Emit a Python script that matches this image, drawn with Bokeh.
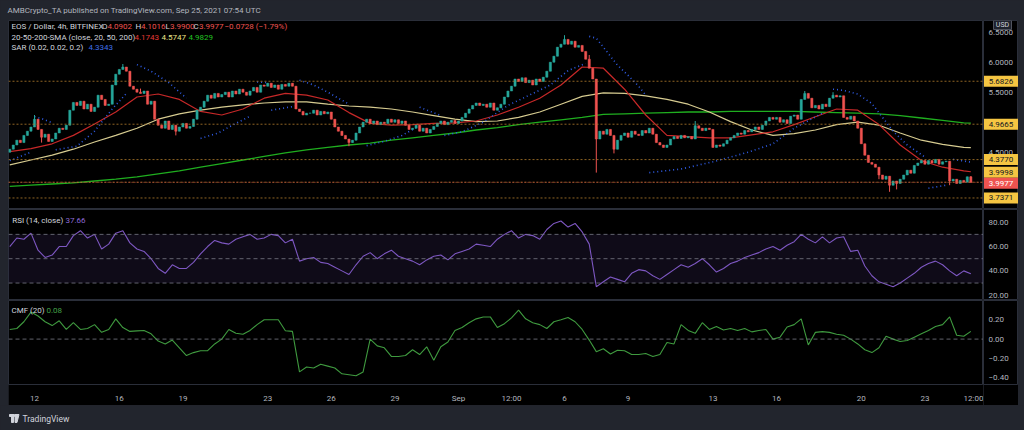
import pandas as pd
from bokeh.plotting import figure
from bokeh.layouts import column, row
from bokeh.models import (Range1d, FixedTicker, Span, Label, BoxAnnotation, ColumnDataSource)
from bokeh.core.properties import value
from bokeh.embed import file_html
from bokeh.resources import INLINE

# ---------------- data ----------------
FIRST_CANDLE = "2021-08-10 20:00"
FIRST_OPEN = 4.50
closes = [
    4.55,                                   # Aug 10 20:00
    4.62, 4.70, 4.66, 4.78, 4.85, 4.92,     # Aug 11
    5.05, 4.88, 4.75, 4.80, 4.68, 4.72,     # Aug 12
    4.82, 4.90, 4.88, 4.95, 5.20, 5.33,     # Aug 13
    5.28, 5.35, 5.22, 5.30, 5.18, 5.25,     # Aug 14
    5.45, 5.38, 5.28, 5.30, 5.62, 5.80,     # Aug 15
    5.88, 5.92, 5.85, 5.60, 5.55, 5.50,     # Aug 16
    5.48, 5.52, 5.30, 5.35, 5.05, 4.95,     # Aug 17
    4.90, 5.02, 4.88, 4.95, 4.85, 4.92,     # Aug 18
    4.98, 4.90, 4.93, 5.05, 5.20, 5.25,     # Aug 19
    5.35, 5.45, 5.40, 5.48, 5.42, 5.46,     # Aug 20
    5.50, 5.42, 5.52, 5.47, 5.55, 5.50,     # Aug 21
    5.45, 5.52, 5.58, 5.50, 5.62, 5.60,     # Aug 22
    5.65, 5.58, 5.62, 5.55, 5.63, 5.60,     # Aug 23
    5.65, 5.60, 5.22, 5.18, 5.12, 5.15,     # Aug 24
    5.15, 5.20, 5.12, 5.18, 5.14, 5.17,     # Aug 25
    5.05, 4.92, 4.85, 4.78, 4.72, 4.66,     # Aug 26
    4.70, 4.82, 4.92, 5.00, 5.05, 4.98,     # Aug 27
    5.02, 4.96, 5.00, 4.98, 5.05, 5.00,     # Aug 28
    5.04, 4.98, 5.02, 4.95, 4.88, 4.90,     # Aug 29
    4.95, 4.85, 4.90, 4.82, 4.88, 4.93,     # Aug 30
    4.98, 5.02, 4.96, 5.00, 5.03, 4.98,     # Aug 31
    5.02, 5.08, 5.15, 5.22, 5.28, 5.32,     # Sep 1
    5.28, 5.30, 5.25, 5.32, 5.20, 5.24,     # Sep 2
    5.30, 5.42, 5.52, 5.60, 5.72, 5.68,     # Sep 3
    5.74, 5.66, 5.70, 5.62, 5.72, 5.68,     # Sep 4
    5.75, 5.85, 6.00, 6.10, 6.25, 6.30,     # Sep 5
    6.38, 6.30, 6.35, 6.25, 6.28, 6.18,     # Sep 6
    6.05, 5.90, 5.72, 4.72, 4.85, 4.80,     # Sep 7
    4.88, 4.78, 4.55, 4.70, 4.78, 4.82,     # Sep 8
    4.75, 4.85, 4.80, 4.78, 4.86, 4.82,     # Sep 9
    4.90, 4.80, 4.66, 4.62, 4.58, 4.62,     # Sep 10
    4.72, 4.76, 4.73, 4.78, 4.74, 4.76,     # Sep 11
    4.72, 4.94, 4.90, 4.86, 4.90, 4.88,     # Sep 12
    4.58, 4.62, 4.60, 4.64, 4.70, 4.74,     # Sep 13
    4.78, 4.82, 4.80, 4.86, 4.84, 4.88,     # Sep 14
    4.92, 4.88, 4.95, 5.02, 5.08, 5.05,     # Sep 15
    5.08, 5.00, 5.04, 4.98, 5.10, 5.12,     # Sep 16
    5.05, 5.38, 5.48, 5.40, 5.24, 5.28,     # Sep 17
    5.22, 5.30, 5.26, 5.40, 5.45, 5.42,     # Sep 18
    5.44, 5.08, 5.05, 5.10, 5.02, 4.90,     # Sep 19
    4.64, 4.45, 4.33, 4.30, 4.25, 4.12,     # Sep 20
    4.05, 4.10, 3.95, 4.02, 3.98, 4.05,     # Sep 21
    4.12, 4.20, 4.15, 4.28, 4.32, 4.36,     # Sep 22
    4.30, 4.36, 4.32, 4.38, 4.30, 4.34,     # Sep 23
    4.35, 4.02, 4.05, 3.98, 4.03, 4.00,     # Sep 24
    4.0902, 3.9977,                         # Sep 25
]
# notable wicks (candle index -> price)
wick_high = {7: 5.12, 32: 5.97, 37: 5.56, 157: 6.45, 164: 6.12, 194: 5.02,
             225: 5.52, 233: 5.50, 272: 4.1016}
wick_low = {9: 4.66, 47: 4.78, 96: 4.60, 166: 4.16, 171: 4.48, 246: 4.05,
            249: 3.84, 251: 3.88, 266: 3.95, 272: 3.99}

# moving averages, one reading per day from the first candle, plus the last candle
sma20 = [4.51, 4.56, 4.64, 4.78, 4.97, 5.17, 5.42, 5.47, 5.38, 5.18,
         5.12, 5.22, 5.40, 5.48, 5.45, 5.37, 5.16, 4.98, 4.95, 4.96,
         4.98, 4.99, 5.02, 5.12, 5.25, 5.40, 5.62, 5.92, 5.90, 5.55,
         5.12, 4.78, 4.76, 4.74, 4.74, 4.79, 4.84, 4.96, 5.09, 5.22,
         5.20, 4.96, 4.62, 4.36, 4.25, 4.19, 4.1743]
sma50 = [4.29, 4.37, 4.45, 4.55, 4.67, 4.78, 4.90, 5.05, 5.14, 5.20,
         5.25, 5.29, 5.32, 5.34, 5.34, 5.30, 5.27, 5.25, 5.22, 5.17,
         5.11, 5.05, 5.01, 5.02, 5.08, 5.17, 5.30, 5.43, 5.49, 5.48,
         5.44, 5.38, 5.30, 5.17, 5.01, 4.87, 4.78, 4.81, 4.87, 4.96,
         5.00, 4.95, 4.82, 4.70, 4.63, 4.58, 4.5747]
sma200 = [3.93, 3.95, 3.97, 3.99, 4.02, 4.05, 4.09, 4.14, 4.19, 4.25,
          4.31, 4.37, 4.43, 4.49, 4.54, 4.58, 4.62, 4.65, 4.70, 4.74,
          4.78, 4.82, 4.87, 4.91, 4.96, 5.00, 5.04, 5.08, 5.13, 5.14,
          5.15, 5.16, 5.17, 5.17, 5.18, 5.18, 5.18, 5.18, 5.17, 5.16,
          5.15, 5.14, 5.11, 5.07, 5.03, 4.99, 4.9829]

# parabolic SAR runs: (candle indices, values)
sar_runs = [
    ([0, 6], [4.36, 4.50]),
    ([7, 9, 12], [5.09, 5.06, 4.99]),
    ([13, 19, 24, 29, 33], [4.54, 4.60, 4.85, 5.22, 5.48]),
    ([36, 40, 45, 50], [5.96, 5.85, 5.66, 5.40]),
    ([54, 59, 63, 68], [4.73, 4.82, 4.95, 5.10]),
    ([70, 73], [5.67, 5.66]),
    ([74, 81], [5.20, 5.27]),
    ([82, 86, 90, 96], [5.70, 5.62, 5.50, 5.30]),
    ([101, 106, 111, 115], [4.61, 4.68, 4.78, 4.91]),
    ([116, 122], [5.25, 5.11]),
    ([123, 128, 134, 141, 147, 153, 158, 163], [4.78, 4.84, 5.00, 5.28, 5.45, 5.62, 5.86, 5.98]),
    ([164, 166, 168, 170, 172, 175, 178, 180], [6.43, 6.40, 6.25, 6.10, 5.95, 5.78, 5.60, 5.45]),
    ([181, 190, 199, 209, 216, 222, 230], [4.16, 4.22, 4.34, 4.50, 4.64, 4.90, 5.15]),
    ([233, 236, 240, 244, 247, 250, 254, 259], [5.55, 5.53, 5.47, 5.31, 5.08, 4.85, 4.62, 4.42]),
    ([260, 265], [3.90, 3.95]),
    ([267, 272], [4.38, 4.3343]),
]

# RSI(14) and CMF(20), one reading every second candle
rsi = [60, 67, 66, 71, 57, 51, 53, 60, 60, 69,
       73, 67, 70, 58, 62, 71, 73, 63, 58, 56,
       50, 42, 38, 45, 42, 42, 47, 54,
       60, 65, 63, 62, 66, 68, 70, 66, 67, 70,
       69, 63, 66, 48, 50, 51, 47, 46, 43, 40,
       37, 45, 52, 55, 50, 54, 57, 52, 50, 48,
       45, 49, 52, 53, 49, 54, 56, 58, 62, 61,
       60, 66, 70, 73, 67, 70, 69, 66, 74, 79,
       81, 76, 79, 72, 62, 27, 31, 35, 33, 31,
       38, 41, 40, 36, 33, 37, 41, 45, 43, 46,
       50, 45, 39, 42, 46, 48, 51, 53, 55, 58,
       60, 57, 61, 64, 70, 66, 63, 68, 63, 67,
       68, 56, 57, 44, 36, 31, 29, 27, 30, 34,
       38, 43, 46, 48, 45, 40, 36, 40, 37.66]
cmf = [0.10, 0.11, 0.18, 0.28, 0.24, 0.18, 0.14, 0.19, 0.10, 0.17,
       0.10, 0.11, 0.15, 0.07, 0.10, 0.21, 0.12, 0.08, 0.085, 0.09,
       0.055, -0.02, -0.05, -0.01, -0.09, -0.17, -0.14, -0.12, -0.12, -0.05,
       0.0, 0.10, 0.06, 0.05, 0.09, 0.15, 0.20, 0.20, 0.20, 0.087,
       0.08, -0.34, -0.29, -0.30, -0.26, -0.28, -0.30, -0.36, -0.37, -0.38,
       -0.34, 0.0, -0.07, -0.09, -0.18, -0.18, -0.17, -0.11, -0.16, -0.08,
       -0.22, -0.08, -0.03, 0.09, 0.12, 0.17, 0.21, 0.23, 0.23, 0.12,
       0.16, 0.22, 0.30, 0.21, 0.17, 0.15, 0.11, 0.18, 0.20, 0.225,
       0.18, 0.10, -0.01, -0.13, -0.10, -0.155, -0.115, -0.12, -0.16, -0.16,
       -0.15, -0.18, -0.16, -0.035, -0.05, 0.15, 0.09, 0.06, 0.17, 0.10,
       0.13, 0.095, 0.11, 0.09, 0.11, 0.075, 0.09, 0.10, 0.0, 0.02,
       0.126, 0.15, 0.21, -0.06, 0.07, 0.078, 0.07, 0.05, 0.04, 0.0,
       -0.05, -0.11, -0.14, -0.09, 0.03, 0.0, -0.025, -0.015, 0.02, 0.055,
       0.09, 0.13, 0.15, 0.23, 0.04, 0.03, 0.08]

levels = [5.6826, 4.9665, 4.3770, 3.9998, 3.7371]
last_price = 3.9977
price_ticks = [4.0, 4.5, 5.0, 5.5, 6.0, 6.5]
rsi_ticks = [20, 40, 60, 80]
cmf_ticks = [-0.4, -0.2, 0.0, 0.2]
time_ticks = ["2021-08-12", "2021-08-16", "2021-08-19", "2021-08-23", "2021-08-26",
              "2021-08-29", "2021-09-01", "2021-09-03 12:00", "2021-09-06", "2021-09-09",
              "2021-09-13", "2021-09-16", "2021-09-20", "2021-09-23", "2021-09-25 12:00"]
time_labels = ["12", "16", "19", "23", "26", "29", "Sep", "12:00", "6", "9",
               "13", "16", "20", "23", "12:00"]

# ---------------- derived ----------------
times = pd.date_range(FIRST_CANDLE, periods=len(closes), freq="4h")
tx = [t.value / 1e6 for t in times]
opens = [FIRST_OPEN] + closes[:-1]
opens[-1] = 4.0902
highs = [max(o, c, wick_high.get(i, 0)) for i, (o, c) in enumerate(zip(opens, closes))]
lows = [min(o, c, wick_low.get(i, 99)) for i, (o, c) in enumerate(zip(opens, closes))]
UP, DOWN = "#26a69a", "#ef5350"
colors = [UP if c >= o else DOWN for o, c in zip(opens, closes)]

# ---------------- layout geometry (page pixels) ----------------
PAGE_W = 1024
LEFT = 8
FRAME_L, FRAME_R = 8, 983
SCALE_W = 1018 - FRAME_R
T_REF = pd.Timestamp("2021-08-12")
PX_REF, PX_PER_DAY = 34.0, 21.2
FONT = "Roboto"
TXT = "#b2b5be"
LEG = "#d1d4dc"
BG = "#22252d"
GRID = "#2a2e39"


def x_at(px):
    return (T_REF + pd.Timedelta(days=(px - PX_REF) / PX_PER_DAY)).value / 1e6


def price_at(py):
    return 6.0 - (py - 61.7) / 60.0


def rsi_at(py):
    return 80 - (py - 221.7) / (73 / 60)


def cmf_at(py):
    return 0.2 - (py - 320.7) / (62 / 0.6)


x_range = Range1d(x_at(FRAME_L), x_at(FRAME_R))


def pane(height, y_range, bottom=0):
    p = figure(width=FRAME_R - FRAME_L, height=height, x_range=x_range, y_range=y_range,
               x_axis_location="below" if bottom else None, y_axis_location=None,
               toolbar_location=None, output_backend="svg",
               background_fill_color="#000000", border_fill_color="#000000",
               min_border=0, min_border_bottom=bottom, margin=(0, 0, 0, LEFT))
    p.outline_line_color = GRID
    p.grid.visible = False
    s = figure(width=SCALE_W, height=height, x_range=Range1d(0, SCALE_W), y_range=y_range,
               x_axis_location=None, y_axis_location=None, toolbar_location=None,
               output_backend="svg", background_fill_color="#000000",
               border_fill_color="#000000", min_border=0, min_border_bottom=bottom)
    s.outline_line_color = GRID
    s.grid.visible = False
    return p, s


def scale_labels(s, ticks, texts):
    s.text(x=[5] * len(ticks), y=ticks, text=texts, text_color=TXT,
           text_font=value(FONT), text_font_size="8px", text_baseline="middle",
           text_align="left")


def scale_boxes(s, ys, texts, fill, txt_color):
    s.rect(x=[SCALE_W / 2] * len(ys), y=ys, width=SCALE_W - 1, height=11,
           height_units="screen", fill_color=fill, line_color=None)
    s.text(x=[SCALE_W / 2] * len(ys), y=ys, text=texts, text_color=txt_color,
           text_font=value(FONT), text_font_size="8px", text_baseline="middle",
           text_align="center")


def label(p, x, y, text, color, size="8px"):
    p.add_layout(Label(x=x, y=y, text=text, text_color=color, text_font_size=size,
                       text_font=FONT, text_baseline="middle", text_align="left"))


def band(height):
    p = figure(width=PAGE_W, height=height, x_range=Range1d(0, PAGE_W),
               y_range=Range1d(0, height), x_axis_location=None, y_axis_location=None,
               toolbar_location=None, output_backend="svg", background_fill_color=BG,
               border_fill_color=BG, min_border=0)
    p.outline_line_color = None
    p.grid.visible = False
    return p


# ---------------- header ----------------
head = band(20)
label(head, 7, 10, "AMBCrypto_TA published on TradingView.com, Sep 25, 2021 07:54 UTC", TXT)

# ---------------- main price pane ----------------
main, mscale = pane(189, Range1d(price_at(209), price_at(20)))

for lv in levels:
    main.add_layout(Span(location=lv, dimension="width", line_color="#a8752a",
                         line_dash="2 2", line_width=1, line_alpha=0.85))
main.add_layout(Span(location=last_price, dimension="width", line_color="#ef5350",
                     line_dash="1 2", line_width=1, line_alpha=0.7))

sma_x = tx[::6] + [tx[-1]]
main.line(sma_x, sma200, line_color="#1fae1f", line_width=1.3)
main.line(sma_x, sma50, line_color="#d6cb90", line_width=1.2)
main.line(sma_x, sma20, line_color="#c62828", line_width=1.2)

main.multi_line([[tx[i] for i in idx] for idx, _ in sar_runs], [v for _, v in sar_runs],
                line_color="#2f5ce6", line_width=1.6, line_dash="1 3")

src = ColumnDataSource(dict(x=tx, o=opens, c=closes, h=highs, l=lows, color=colors,
                            top=[max(o, c) for o, c in zip(opens, closes)],
                            bottom=[min(o, c) for o, c in zip(opens, closes)]))
main.segment(x0="x", y0="h", x1="x", y1="l", source=src, line_color="color", line_width=1)
main.vbar(x="x", width=4 * 3600 * 1000 * 0.62, top="top", bottom="bottom", source=src,
          fill_color="color", line_color="color", line_width=0.5)

y1, y2, y3 = price_at(26), price_at(36.5), price_at(47)
label(main, x_at(11), y1, "EOS / Dollar, 4h, BITFINEX", LEG)
for px, t, col in [(101.5, "O", LEG), (107, "4.0902", DOWN), (135, "H", LEG),
                   (140.5, "4.1016", DOWN), (165, "L", LEG), (169.5, "3.9900", DOWN),
                   (193, "C", LEG), (198.5, "3.9977", DOWN),
                   (224, "\u22120.0728 (\u22121.79%)", DOWN)]:
    label(main, x_at(px), y1, t, col)
label(main, x_at(11), y2, "20-50-200-SMA (close, 20, 50, 200)", LEG)
label(main, x_at(134), y2, "4.1743", "#e53935")
label(main, x_at(161), y2, "4.5747", "#eee58a")
label(main, x_at(188), y2, "4.9829", "#22c222")
label(main, x_at(11), y3, "SAR (0.02, 0.02, 0.2)", LEG)
label(main, x_at(88), y3, "4.3343", "#3f6fe8")

scale_labels(mscale, price_ticks, [f"{v:.4f}" for v in price_ticks])
shift_px = {3.9998: -10}
scale_boxes(mscale, [lv - shift_px.get(lv, 0) / 60.0 for lv in levels],
            [f"{lv:.4f}" for lv in levels], "#f5c542", "#131722")
scale_boxes(mscale, [last_price - 1 / 60.0], [f"{last_price:.4f}"], "#ef5350", "#ffffff")
mscale.rect(x=[19], y=[price_at(24.5)], width=18, height=9, height_units="screen",
            fill_color="#1e222d", line_color="#50535e")
mscale.text(x=[19], y=[price_at(24.5)], text=["USD"], text_color=LEG,
            text_font=value(FONT), text_font_size="7px", text_baseline="middle",
            text_align="center")

# ---------------- RSI pane ----------------
rp, rscale = pane(91, Range1d(rsi_at(300), rsi_at(209)))
rp.add_layout(BoxAnnotation(bottom=30, top=70, fill_color="#7e57c2", fill_alpha=0.12,
                            line_color=None))
for lv in (70, 50, 30):
    rp.add_layout(Span(location=lv, dimension="width", line_color="#787b86",
                       line_dash="4 3", line_width=1, line_alpha=0.8))
rp.line(tx[::2], rsi, line_color="#7e57c2", line_width=1.1)
label(rp, x_at(11.7), rsi_at(220), "RSI (14, close)", LEG)
label(rp, x_at(65), rsi_at(220), "37.66", "#8e6ad6")
scale_labels(rscale, rsi_ticks, [f"{v:.2f}" for v in rsi_ticks])

# ---------------- CMF pane + time scale ----------------
cp, cscale = pane(105, Range1d(cmf_at(390), cmf_at(300)), bottom=15)
cp.add_layout(Span(location=0, dimension="width", line_color="#787b86",
                   line_dash="4 3", line_width=1, line_alpha=0.8))
cp.line(tx[::2], cmf, line_color="#3f9a3f", line_width=1.1)
label(cp, x_at(11), cmf_at(310.7), "CMF (20)", LEG)
label(cp, x_at(46), cmf_at(310.7), "0.08", "#43a047")
scale_labels(cscale, cmf_ticks, [f"{v:.2f}".replace("-", "\u2212") for v in cmf_ticks])

tick_ms = [pd.Timestamp(s).value // 10**6 for s in time_ticks]
xa = cp.xaxis[0]
xa.ticker = FixedTicker(ticks=tick_ms)
xa.major_label_overrides = {t: lab for t, lab in zip(tick_ms, time_labels)}
xa.major_tick_line_color = None
xa.minor_tick_line_color = None
xa.axis_line_color = None
xa.major_label_text_font_size = "8px"
xa.major_label_text_font = FONT
xa.major_label_text_color = TXT
xa.major_label_standoff = 3

# ---------------- footer ----------------
foot = band(25)
foot.quad(left=[9, 11], right=[14, 13], top=[16, 16], bottom=[14, 8], color=LEG)
foot.patch([14.5, 18.5, 16.5, 14.5], [16, 16, 8, 8], color=LEG)
label(foot, 22, 12, "TradingView", LEG, size="8.5px")

layout = column(head, row(main, mscale, spacing=0), row(rp, rscale, spacing=0),
                row(cp, cscale, spacing=0), foot, spacing=0)
CSS = "<style>body{background:%s;}</style>" % BG
open("out.html", "w").write(file_html(layout, INLINE).replace("<head>", "<head>" + CSS, 1))
